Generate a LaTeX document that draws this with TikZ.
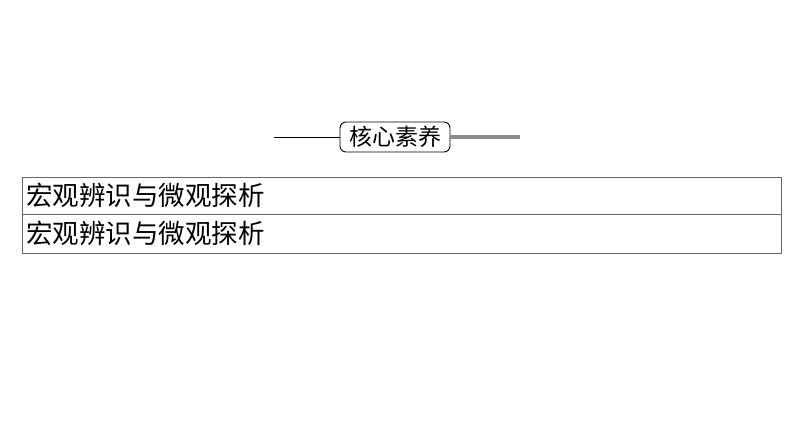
\documentclass[tikz,border=0pt]{standalone}
\usepackage{fontspec}
\newfontfamily\cjk{Noto Sans CJK SC}
\begin{document}
\begin{tikzpicture}[x=1pt,y=-1pt,
  cell/.style={draw=black!60,line width=1pt},
  celltext/.style={anchor=west,inner sep=0pt,font=\cjk\fontsize{26.5}{26.5}\selectfont},
  tag/.style={draw,rounded corners=6pt,line width=0.9pt,minimum width=110pt,minimum height=30pt,inner sep=0pt,font=\cjk\fontsize{23}{23}\selectfont}]
\useasboundingbox (0,0) rectangle (794,447);
\node[tag] (t) at (395,137) {核心素养};
\coordinate (l) at (274,137);
\coordinate (r) at (520,137);
\draw[line width=0.9pt] (l) -- (t.west);
\draw[line width=4pt,black!45] (t.east) -- (r);
\draw[cell] (22,177) rectangle (781,253);
\draw[cell] (22,214) -- (781,214);
\node[celltext] (a) at (26,195.5) {宏观辨识与微观探析};
\node[celltext] (b) at (26,233.5) {宏观辨识与微观探析};
\end{tikzpicture}
\end{document}
